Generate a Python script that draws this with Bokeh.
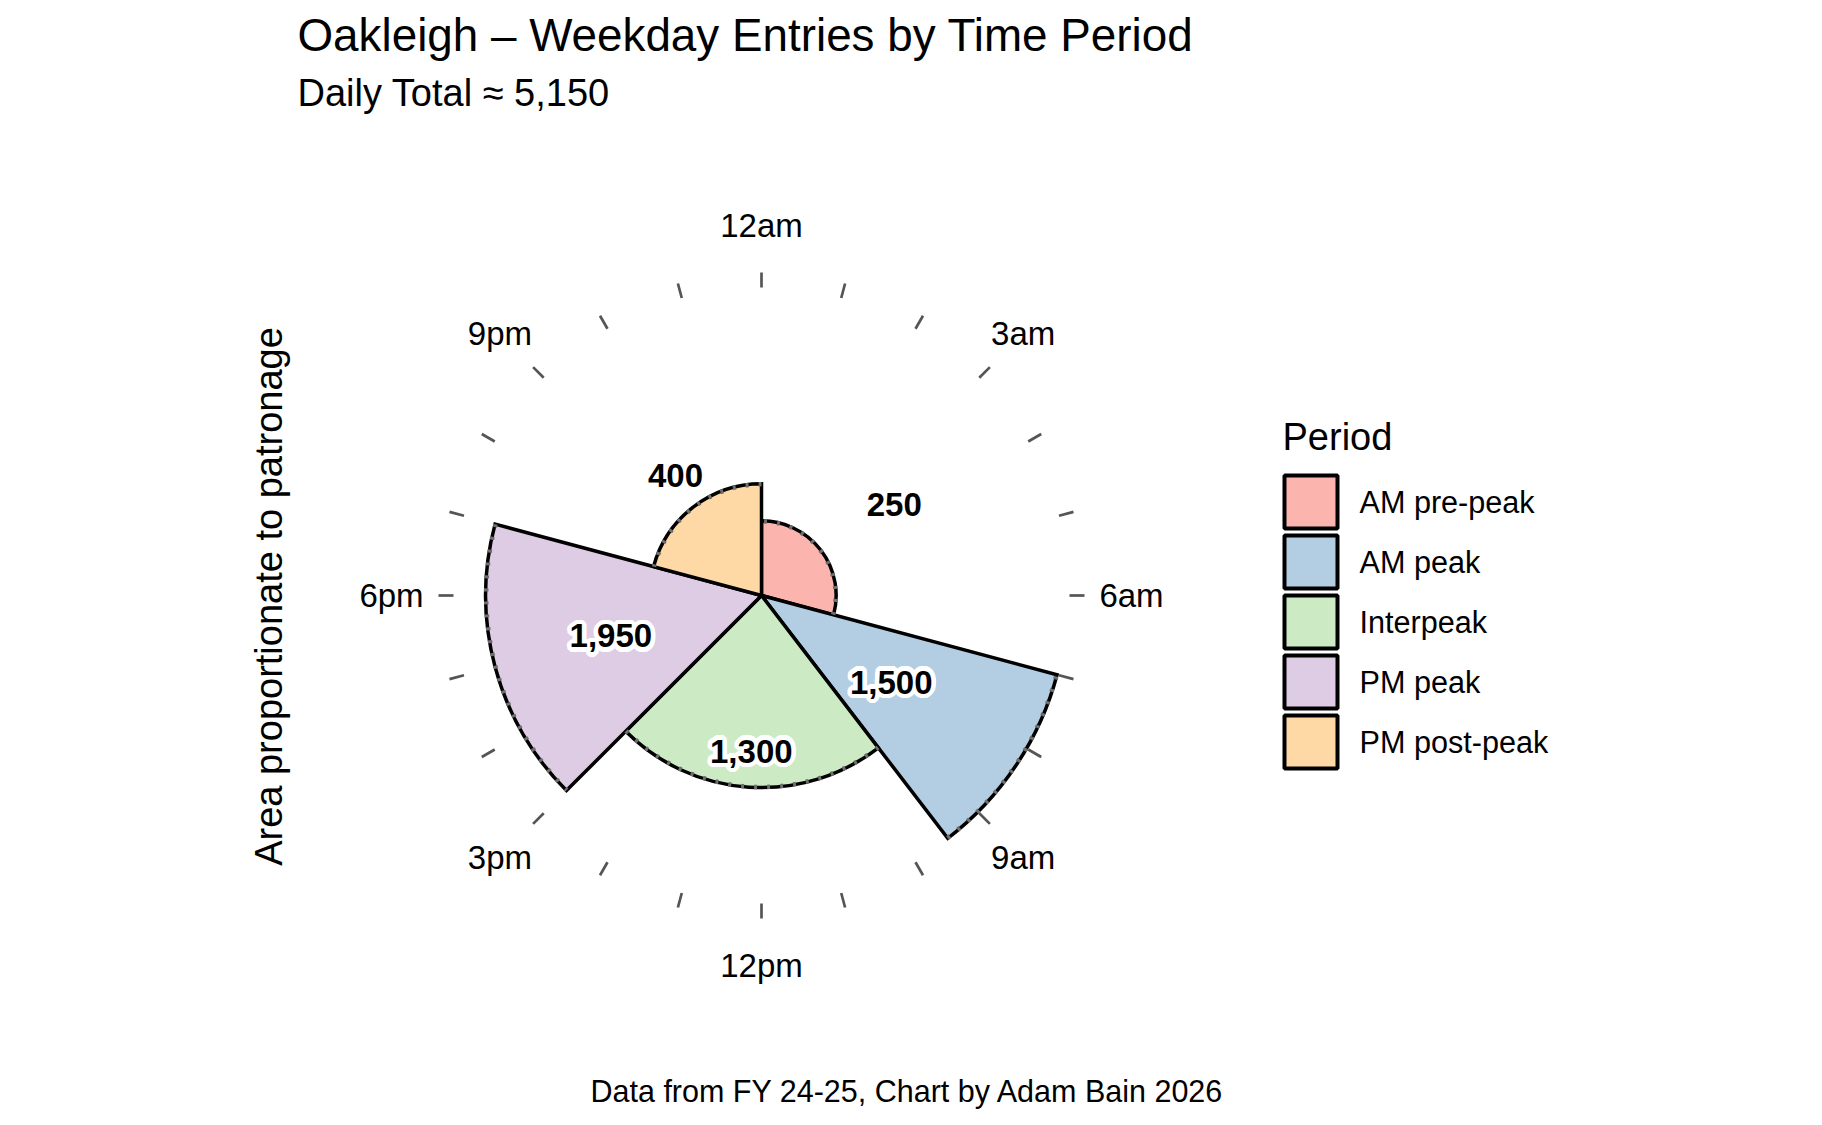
import numpy as np
from bokeh.plotting import figure
from bokeh.models import Range1d, ColumnDataSource
from bokeh.core.properties import value
from bokeh.embed import file_html
from bokeh.resources import INLINE

# ---------------- data ----------------
periods = ["AM pre-peak", "AM peak", "Interpeak", "PM peak", "PM post-peak"]
entries = [250, 1500, 1300, 1950, 400]
start_hour = [0, 7, 9.5, 15, 19]
end_hour = [7, 9.5, 15, 19, 24]
entry_labels = ["250", "1,500", "1,300", "1,950", "400"]
colors = ["#FBB4AE", "#B3CDE3", "#CCEBC5", "#DECBE4", "#FED9A6"]
tick_hours = list(range(24))
label_hours = [0, 3, 6, 9, 12, 15, 18, 21]
hour_labels = ["12am", "3am", "6am", "9am", "12pm", "3pm", "6pm", "9pm"]
title_text = "Oakleigh – Weekday Entries by Time Period"
subtitle_text = "Daily Total ≈ 5,150"
caption_text = "Data from FY 24-25, Chart by Adam Bain 2026"
ytitle_text = "Area proportionate to patronage"
legend_title = "Period"

FONT = value("Liberation Sans")

# ---------------- layout (page px) ----------------
W, H = 1814, 1117
OFF = 1                    # where the figure sits on the page
CX, CY = 762, 596          # centre of the polar panel on the page
R_MAX = 306                # outer radius of the panel
TICK_IN, TICK_OUT = 308, 323
LAB_R = 370
VAL_R = 156


def X(px):
    return px - CX


def Y(py):
    return CY - py


p = figure(width=W, height=H,
           x_range=Range1d(OFF - CX, OFF + W - CX),
           y_range=Range1d(CY - (OFF + H), CY - OFF),
           output_backend="svg", toolbar_location=None,
           min_border=0, x_axis_location=None, y_axis_location=None)
p.grid.visible = False
p.outline_line_color = None
p.background_fill_color = "white"
p.border_fill_color = "white"

# ---------------- wedges ----------------
sh = np.array(start_hour, dtype=float)
eh = np.array(end_hour, dtype=float)
vals = np.array(entries, dtype=float)
dens = np.sqrt(vals / (eh - sh))
radius = R_MAX * dens / dens.max()
a_start = np.pi / 2 - eh * 2 * np.pi / 24
a_end = np.pi / 2 - sh * 2 * np.pi / 24

src = ColumnDataSource(dict(x=np.zeros(5), y=np.zeros(5), r=radius,
                            rd=radius - 0.5, a0=a_start, a1=a_end, c=colors))
p.wedge(x="x", y="y", radius="r", start_angle="a0", end_angle="a1",
        fill_color="c", line_color="black", line_width=3.5,
        line_join="miter", source=src)
p.arc(x="x", y="y", radius="rd", start_angle="a0", end_angle="a1",
      line_color="#6e6e6e", line_width=4.5, line_dash="3 10", source=src)

# ---------------- hour ticks & labels ----------------
th = np.array(tick_hours) * 2 * np.pi / 24
p.segment(x0=TICK_IN * np.sin(th), y0=TICK_IN * np.cos(th),
          x1=TICK_OUT * np.sin(th), y1=TICK_OUT * np.cos(th),
          line_color="#555555", line_width=2.7)
lh = np.array(label_hours) * 2 * np.pi / 24
p.text(x=LAB_R * np.sin(lh), y=LAB_R * np.cos(lh), text=hour_labels,
       text_font=FONT, text_font_size="33px", text_color="black",
       text_align="center", text_baseline="middle")

# ---------------- value labels ----------------
mid = (sh + eh) / 2 * 2 * np.pi / 24
lx = VAL_R * np.sin(mid)
ly = VAL_R * np.cos(mid)
inside = VAL_R < radius
hx, hy = lx[inside], ly[inside]
ht = [t for t, i in zip(entry_labels, inside) if i]
ox, oy = lx[~inside], ly[~inside]
ot = [t for t, i in zip(entry_labels, inside) if not i]
LBL = dict(text_font=FONT, text_font_size="33px", text_font_style="bold",
           text_align="center", text_baseline="middle")
for rr in (2.5, 4.5):
    for ang in np.linspace(0, 2 * np.pi, 20, endpoint=False):
        p.text(x=hx, y=hy, text=ht, x_offset=rr * np.cos(ang),
               y_offset=rr * np.sin(ang), text_color="white", **LBL)
p.text(x=hx, y=hy, text=ht, text_color="black", **LBL)
p.text(x=ox, y=oy, text=ot, x_offset=9, y_offset=3.5, text_color="black",
       **LBL)

# ---------------- titles ----------------
p.text(x=[X(298)], y=[Y(36)], text=[title_text], text_font=FONT,
       text_font_size="45.8px", text_color="black", text_align="left",
       text_baseline="middle")
p.text(x=[X(298)], y=[Y(93.5)], text=[subtitle_text], text_font=FONT,
       text_font_size="38px", text_color="black", text_align="left",
       text_baseline="middle")
p.text(x=[X(908)], y=[Y(1091)], text=[caption_text], text_font=FONT,
       text_font_size="30.5px", text_color="black", text_align="center",
       text_baseline="middle")
p.text(x=[X(269)], y=[Y(597)], text=[ytitle_text], angle=np.pi / 2,
       text_font=FONT, text_font_size="38px", text_color="black",
       text_align="center", text_baseline="middle")

# ---------------- legend ----------------
p.text(x=[X(1283)], y=[Y(437)], text=[legend_title], text_font=FONT,
       text_font_size="38px", text_color="black", text_align="left",
       text_baseline="middle")
key_y = [Y(502.5 + 60 * i) for i in range(len(periods))]
p.rect(x=[X(1311.5)] * len(periods), y=key_y, width=53, height=53,
       fill_color=colors, line_color="black", line_width=4)
p.text(x=[X(1360)] * len(periods), y=key_y, text=periods, text_font=FONT,
       text_font_size="30.6px", text_color="black", text_align="left",
       text_baseline="middle")

open("out.html", "w").write(file_html(p, INLINE))
